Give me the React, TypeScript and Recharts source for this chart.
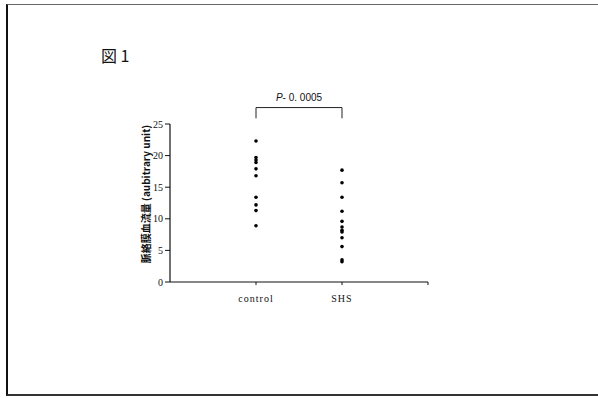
import React from 'react';
import { ScatterChart, Scatter, XAxis, YAxis, ReferenceLine } from 'recharts';

const CATEGORIES = ['control', 'SHS', ''];
const CONTROL = [22.3, 19.7, 19.3, 18.9, 17.9, 16.8, 13.4, 12.2, 11.3, 8.9];
const SHS = [17.7, 15.7, 13.4, 11.2, 9.6, 8.7, 8.2, 7.9, 7.0, 5.6, 3.5, 3.2];
const Y_TICKS = [0, 5, 10, 15, 20, 25];
const X_TICKS = [1, 2, 3];
const BRACKET_TOP = 27.6;
const BRACKET_FOOT = 25.9;
const P_TEXT = '- 0. 0005';
const TITLE = '図 1';
const Y_LABEL = '脈絡膜血流量 (aubitrary unit)';

const controlData = CONTROL.map(v => ({ x: 1, y: v }));
const shsData = SHS.map(v => ({ x: 2, y: v }));

const dot = (props: any) => <circle cx={props.cx} cy={props.cy} r={1.8} fill="#000" />;

const tickFont = { fontFamily: '"Liberation Serif", serif', fontSize: 10, fill: '#111' };

const PLabel = (props: any) => {
  const { viewBox } = props;
  const cx = viewBox.x + viewBox.width / 2;
  return (
    <text x={cx} y={viewBox.y - 7} textAnchor="middle" fontFamily='"Liberation Sans", sans-serif' fontSize={10} fill="#111">
      <tspan fontStyle="italic">P</tspan>
      {P_TEXT}
    </text>
  );
};

const YLabel = (props: any) => {
  const { viewBox } = props;
  const x = viewBox.x + 15;
  const y = viewBox.y + viewBox.height / 2 - 9;
  return (
    <text
      x={x}
      y={y}
      transform={`rotate(-90, ${x}, ${y})`}
      textAnchor="middle"
      dominantBaseline="central"
      fontFamily='"Noto Sans CJK JP", sans-serif'
      fontWeight="bold"
      fontSize={10}
      fill="#111"
    >
      {Y_LABEL}
    </text>
  );
};

export default function App() {
  return (
    <div style={{ position: 'absolute', left: 0, top: 0, width: 598, height: 398, background: '#fff' }}>
      <div
        style={{
          position: 'absolute',
          left: 6,
          top: 4,
          width: 592,
          height: 389,
          borderLeft: '2px solid #111',
          borderTop: '1px solid #666',
          borderBottom: '2px solid #333',
        }}
      />
      <div
        style={{
          position: 'absolute',
          left: 101,
          top: 43,
          fontFamily: '"Noto Sans CJK JP", serif',
          fontSize: 16,
          color: '#111',
        }}
      >
        {TITLE}
      </div>
      <div style={{ position: 'absolute', left: 0, top: 0 }}>
        <ScatterChart width={598} height={398} margin={{ top: 124, right: 170, bottom: 86, left: 130 }}>
          <XAxis
            type="number"
            dataKey="x"
            domain={[0, 3]}
            ticks={X_TICKS}
            tickFormatter={(v: number) => CATEGORIES[v - 1]}
            tickSize={3}
            height={30}
            tick={{ ...tickFont, dy: 8, letterSpacing: 1 }}
            stroke="#111"
            axisLine={{ stroke: '#111', strokeWidth: 1.2 }}
          />
          <YAxis
            type="number"
            dataKey="y"
            domain={[0, 25]}
            ticks={Y_TICKS}
            tickSize={5}
            width={40}
            tick={tickFont}
            stroke="#111"
            axisLine={{ stroke: '#111', strokeWidth: 1.2 }}
            label={<YLabel />}
          />
          <ReferenceLine
            segment={[{ x: 1, y: BRACKET_TOP }, { x: 2, y: BRACKET_TOP }]}
            stroke="#222"
            ifOverflow="visible"
            label={<PLabel />}
          />
          <ReferenceLine
            segment={[{ x: 1, y: BRACKET_TOP }, { x: 1, y: BRACKET_FOOT }]}
            stroke="#222"
            ifOverflow="visible"
          />
          <ReferenceLine
            segment={[{ x: 2, y: BRACKET_TOP }, { x: 2, y: BRACKET_FOOT }]}
            stroke="#222"
            ifOverflow="visible"
          />
          <Scatter data={controlData} shape={dot} isAnimationActive={false} />
          <Scatter data={shsData} shape={dot} isAnimationActive={false} />
        </ScatterChart>
      </div>
    </div>
  );
}
